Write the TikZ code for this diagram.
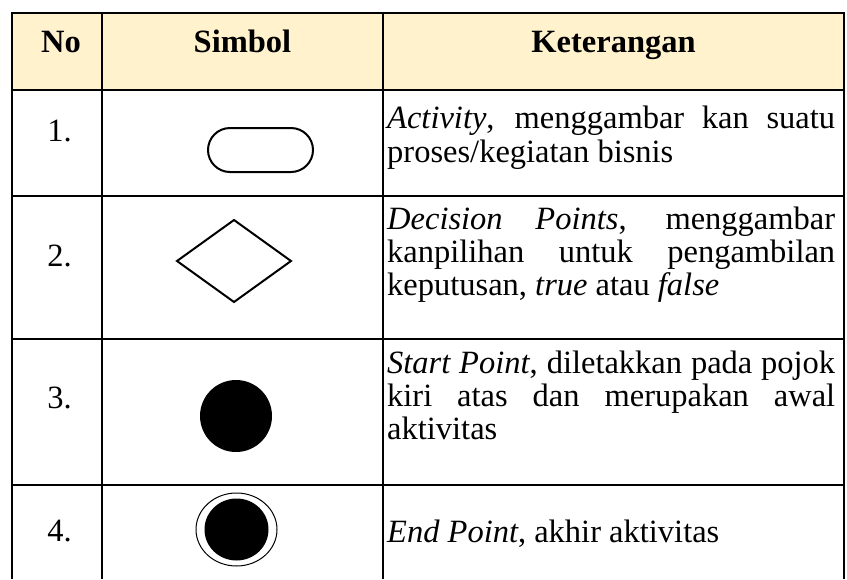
\documentclass[tikz,border=0pt]{standalone}
\usepackage{fontspec}
\setmainfont{Liberation Serif}
\definecolor{headfill}{HTML}{FFF2CC}
\begin{document}
\begin{tikzpicture}[x=1pt,y=-1pt,
    grid/.style={line width=2.5pt,line cap=rect},
    txt/.style={anchor=base west,inner sep=0pt,font=\fontsize{32.5pt}{33pt}\selectfont},
    num/.style={anchor=base,inner sep=0pt,font=\fontsize{32.5pt}{33pt}\selectfont},
    head/.style={anchor=base,inner sep=0pt,font=\fontsize{32.5pt}{33pt}\selectfont\bfseries},
    sym/.style={line width=2pt,draw=black}]
\useasboundingbox (0,0) rectangle (847,579);
\fill[white] (0,0) rectangle (847,579);

% header band
\fill[headfill] (12,13) rectangle (844,90);

% table rules
\draw[grid] (12,13) -- (844,13);
\draw[grid] (12,90) -- (844,90);
\draw[grid] (12,196) -- (844,196);
\draw[grid] (12,339) -- (844,339);
\draw[grid] (12,485) -- (844,485);
\draw[line width=2.5pt] (12,12) -- (12,579);
\draw[line width=2.5pt] (102,12) -- (102,579);
\draw[line width=2.5pt] (383,12) -- (383,579);
\draw[line width=2.5pt] (844,12) -- (844,579);

% header
\node[head] (hno) at (61,52) {No};
\node[head] (hsym) at (242.5,52) {Simbol};
\node[head] (hket) at (613.5,52) {Keterangan};

% row numbers
\node[num] (n1) at (59.5,141) {1.};
\node[num] (n2) at (59.5,266) {2.};
\node[num] (n3) at (59.5,408) {3.};
\node[num] (n4) at (59.5,541) {4.};

% symbols
\draw[sym,rounded corners=22pt] (208,128) rectangle (313,172);
\draw[sym,line join=miter] (177,261) -- (234,220) -- (291,261) -- (234,302) -- cycle;
\fill[black] (236,416) circle (36);
\draw[line width=1pt] (236.5,529.5) ellipse [x radius=40.5,y radius=36.5];
\fill[black] (236.5,529.5) ellipse [x radius=32,y radius=31];

% descriptions
\node[txt] (d1a) at (387,128) {\makebox[448pt][s]{\textit{Activity}, menggambar kan suatu}};
\node[txt] (d1b) at (387,162) {proses/kegiatan bisnis};

\node[txt] (d2a) at (387,229) {\makebox[448pt][s]{\textit{Decision Points}, menggambar}};
\node[txt] (d2b) at (387,262) {\makebox[448pt][s]{kanpilihan untuk pengambilan}};
\node[txt] (d2c) at (387,295) {keputusan, \textit{true} atau \textit{false}};

\node[txt] (d3a) at (387,373) {\makebox[448pt][s]{\textit{Start Point}, diletakkan pada pojok}};
\node[txt] (d3b) at (387,406) {\makebox[448pt][s]{kiri atas dan merupakan awal}};
\node[txt] (d3c) at (387,439) {aktivitas};

\node[txt] (d4a) at (387,542) {\textit{End Point}, akhir aktivitas};
\end{tikzpicture}
\end{document}
